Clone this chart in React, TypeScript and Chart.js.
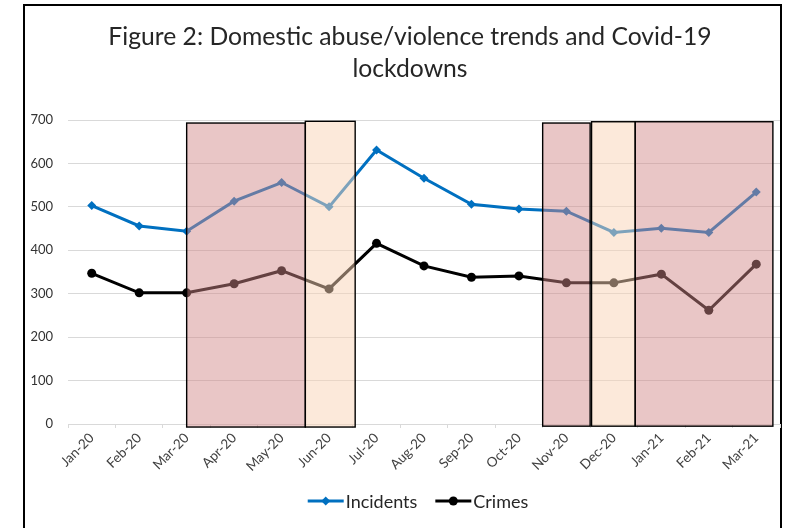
import React, { useEffect, useRef } from "react";
import { Chart, registerables } from "chart.js";

Chart.register(...registerables);

const months = [
  "Jan-20", "Feb-20", "Mar-20", "Apr-20", "May-20", "Jun-20", "Jul-20", "Aug-20",
  "Sep-20", "Oct-20", "Nov-20", "Dec-20", "Jan-21", "Feb-21", "Mar-21",
];
const incidents = [503, 456, 444, 513, 556, 500, 631, 566, 506, 495, 490, 441, 451, 441, 534];
const crimes = [347, 302, 302, 323, 353, 311, 416, 364, 338, 341, 325, 325, 345, 262, 368];

const yMin = 0;
const yMax = 700;
const yStep = 100;

// lockdown periods (category index units) and their kind
const lockStart = [2.0, 4.5, 9.5, 10.53, 11.45];
const lockEnd = [4.5, 5.55, 10.5, 11.45, 14.35];
const lockTop = [693, 697, 693, 696, 696];
const lockBottom = [-7, -7, -5, -5, -5];
const lockKind = ["full", "eased", "full", "eased", "full"];

const titleLines = ["Figure 2: Domestic abuse/violence trends and Covid-19", "lockdowns"];

const FONT = "Lato, 'Open Sans', sans-serif";

const titlePlugin = {
  id: "customTitle",
  afterDraw(chart: any) {
    const { ctx } = chart;
    ctx.save();
    ctx.font = `24.7px ${FONT}`;
    ctx.fillStyle = "#262626";
    ctx.textAlign = "center";
    ctx.textBaseline = "middle";
    titleLines.forEach((t, i) => ctx.fillText(t, 410, 37 + i * 32.5));
    ctx.restore();
  },
};

const lockdownPlugin = {
  id: "lockdowns",
  afterDatasetsDraw(chart: any) {
    const { ctx, scales } = chart;
    const x = scales.x;
    const y = scales.y;
    ctx.save();
    for (let i = 0; i < lockStart.length; i++) {
      const x0 = x.getPixelForValue(lockStart[i]);
      const x1 = x.getPixelForValue(lockEnd[i]);
      const y0 = y.getPixelForValue(lockTop[i]);
      const y1 = y.getPixelForValue(lockBottom[i]);
      ctx.fillStyle = lockKind[i] === "full" ? "rgba(208,135,135,0.48)" : "rgba(249,211,181,0.5)";
      ctx.fillRect(x0, y0, x1 - x0, y1 - y0);
      ctx.lineWidth = 1.4;
      ctx.strokeStyle = "#000";
      ctx.strokeRect(x0, y0, x1 - x0, y1 - y0);
    }
    ctx.restore();
  },
};

const legendPlugin = {
  id: "customLegend",
  afterDraw(chart: any) {
    const { ctx } = chart;
    const ds = chart.data.datasets;
    ctx.save();
    ctx.font = `18px ${FONT}`;
    ctx.textBaseline = "middle";
    ctx.textAlign = "left";
    const sample = 36;
    const gapText = 2;
    const gapItem = 18;
    const widths = ds.map((d: any) => sample + gapText + ctx.measureText(d.label).width);
    const total = widths.reduce((a: number, b: number) => a + b, 0) + gapItem * (ds.length - 1);
    let cx = 418 - total / 2;
    const cy = 501;
    ds.forEach((d: any, i: number) => {
      ctx.strokeStyle = d.borderColor;
      ctx.lineWidth = 3;
      ctx.beginPath();
      ctx.moveTo(cx, cy);
      ctx.lineTo(cx + sample, cy);
      ctx.stroke();
      ctx.fillStyle = d.borderColor;
      const mx = cx + sample / 2;
      if (d.pointStyle === "rectRot") {
        ctx.beginPath();
        ctx.moveTo(mx, cy - 4.5);
        ctx.lineTo(mx + 4.5, cy);
        ctx.lineTo(mx, cy + 4.5);
        ctx.lineTo(mx - 4.5, cy);
        ctx.closePath();
        ctx.fill();
      } else {
        ctx.beginPath();
        ctx.arc(mx, cy, 4.5, 0, Math.PI * 2);
        ctx.fill();
      }
      ctx.fillStyle = "#262626";
      ctx.fillText(d.label, cx + sample + gapText, cy + 1);
      cx += widths[i] + gapItem;
    });
    ctx.restore();
  },
};

export default function App() {
  const ref = useRef<HTMLCanvasElement | null>(null);

  useEffect(() => {
    if (!ref.current) return;
    const chart = new Chart(ref.current, {
      type: "line",
      data: {
        labels: months,
        datasets: [
          {
            label: "Incidents",
            data: incidents,
            borderColor: "#0070C0",
            backgroundColor: "#0070C0",
            borderWidth: 3,
            pointStyle: "rectRot",
            pointRadius: 4.5,
            pointBorderWidth: 0,
            tension: 0,
          },
          {
            label: "Crimes",
            data: crimes,
            borderColor: "#000000",
            backgroundColor: "#000000",
            borderWidth: 3,
            pointStyle: "circle",
            pointRadius: 4.5,
            pointBorderWidth: 0,
            tension: 0,
          },
        ],
      },
      options: {
        animation: false,
        responsive: true,
        maintainAspectRatio: false,
        layout: { padding: { left: 26, right: 10, top: 120, bottom: 44 } },
        plugins: {
          legend: { display: false },
          tooltip: { enabled: false },
          title: { display: false },
        },
        scales: {
          x: {
            offset: true,
            afterFit: (s: any) => {
              s.height = 60;
            },
            grid: {
              offset: true,
              drawOnChartArea: false,
              drawTicks: true,
              tickLength: 4,
              color: "#d9d9d9",
            },
            border: { display: true, color: "#d9d9d9", width: 1 },
            ticks: {
              autoSkip: false,
              minRotation: 45,
              maxRotation: 45,
              padding: 2,
              color: "#404040",
              font: { family: FONT, size: 13.5 },
            },
          },
          y: {
            min: yMin,
            max: yMax,
            afterFit: (s: any) => {
              s.width = 42;
            },
            grid: { color: "#d9d9d9", drawTicks: false, lineWidth: 1 },
            border: { display: false },
            ticks: {
              stepSize: yStep,
              padding: 15,
              color: "#333333",
              font: { family: FONT, size: 13 },
            },
          },
        },
      },
      plugins: [lockdownPlugin, titlePlugin, legendPlugin],
    });
    return () => chart.destroy();
  }, []);

  return (
    <div style={{ position: "absolute", left: 0, top: 0, width: 790, height: 528, overflow: "hidden", background: "#fff" }}>
      <div
        style={{
          position: "absolute",
          left: 23,
          top: 4,
          width: 759,
          height: 600,
          boxSizing: "border-box",
          border: "2px solid #000",
        }}
      />
      <div style={{ position: "absolute", left: 0, top: 0, width: 790, height: 528 }}>
        <canvas ref={ref} />
      </div>
    </div>
  );
}
